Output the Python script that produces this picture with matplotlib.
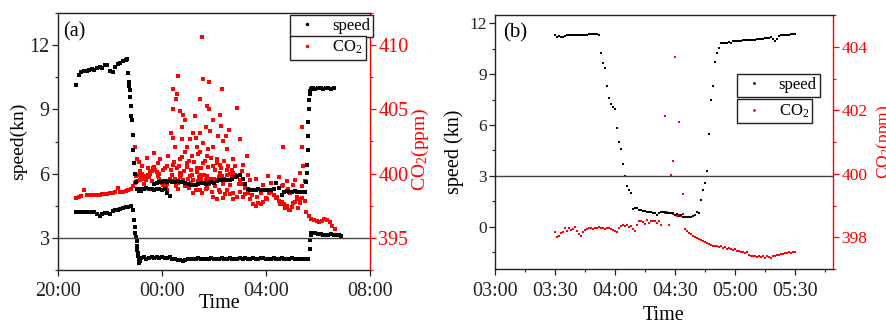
import matplotlib
matplotlib.use("Agg")
import matplotlib.pyplot as plt
from matplotlib.lines import Line2D
from matplotlib.ticker import MultipleLocator

plt.rcParams['font.family'] = ['Liberation Serif', 'DejaVu Serif']
plt.rcParams['mathtext.fontset'] = 'custom'
plt.rcParams['mathtext.rm'] = 'Liberation Serif'
plt.rcParams['mathtext.it'] = 'Liberation Serif:italic'

RED = '#ff0000'

# ---------------- Panel (a): hours after 20:00 ----------------
a_xticks = [0, 4, 8, 12]
a_xticklabels = ["20:00", "00:00", "04:00", "08:00"]

# speed trace A (segments: start hour, step, values)
a_spdA_1 = (0.7, 0.1, [10.15, 10.6, 10.75, 10.8, 10.8, 10.85, 10.9, 10.85, 10.95, 11.0,
                       10.95, 11.05, 11.05, 10.8, 10.75, 11.0, 11.1, 11.15, 11.25, 11.3])
a_spdA_2_t = [2.66, 2.7, 2.72, 2.74, 2.76, 2.78, 2.8, 2.82, 2.84, 2.87, 2.9, 2.93, 2.96, 3.0, 3.05, 3.1, 3.15]
a_spdA_2_v = [11.35, 10.7, 10.3, 10.1, 9.9, 9.6, 9.15, 8.7, 8.5, 7.8, 7.1, 6.5, 6.0, 5.6, 5.3, 5.2, 5.3]
a_spdA_3 = (3.2, 0.1, [5.2, 5.3, 5.35, 5.3, 5.3, 5.25, 5.3, 5.3, 5.25, 5.3, 5.1, 4.95])
a_spdA_4 = (3.7, 0.1, [5.5, 5.55, 5.6, 5.6, 5.65, 5.6, 5.65, 5.6, 5.62, 5.65, 5.6, 5.6, 5.55, 5.5,
                       5.45, 5.48, 5.45, 5.5, 5.55, 5.55, 5.5, 5.55, 5.6, 5.58, 5.65, 5.7, 5.68,
                       5.7, 5.72, 5.7, 5.75, 5.85, 5.9, 5.95, 5.75, 5.5, 5.3, 5.25, 5.25, 5.25,
                       5.28, 5.25, 5.25, 5.22, 5.25, 5.25, 5.3, 5.55, 5.35, 5.0, 5.15, 5.18,
                       5.15, 5.15, 5.18, 5.15, 5.15, 5.12, 5.15])
a_spdA_5_t = [9.55, 9.57, 9.59, 9.6, 9.62, 9.63, 9.65, 9.66, 9.68, 9.7, 9.73, 9.76]
a_spdA_5_v = [5.6, 6.05, 6.4, 7.1, 7.75, 8.4, 9.0, 9.45, 9.7, 9.85, 9.95, 10.0]
a_spdA_6 = (9.8, 0.1, [10.0, 9.95, 10.0, 10.0, 9.95, 10.0, 10.0, 9.95, 10.0])

# speed trace B
a_spdB_1 = (0.7, 0.1, [4.2, 4.2, 4.2, 4.2, 4.2, 4.2, 4.2, 4.2, 4.1, 4.0, 4.12, 4.15, 4.15, 4.1,
                       4.25, 4.3, 4.3, 4.35, 4.4, 4.42, 4.45, 4.47])
a_spdB_2_t = [2.9, 2.93, 2.96, 2.98, 3.0, 3.02, 3.04, 3.05, 3.06, 3.08, 3.1, 3.12, 3.15]
a_spdB_2_v = [4.3, 3.85, 3.5, 3.25, 3.05, 2.85, 2.6, 2.45, 2.3, 2.15, 2.0, 1.85, 1.9]
a_spdB_3 = (3.2, 0.1, [2.05, 2.1, 2.02, 2.08, 2.12, 2.04, 2.1, 2.06, 2.12, 2.05, 2.08, 2.1, 2.02,
                       2.0, 1.98, 1.95, 1.92, 1.95, 2.0, 2.02, 2.03, 2.02, 2.04, 2.03, 2.02, 2.03,
                       2.02, 2.05, 2.03, 2.02, 2.03, 2.04, 2.02, 2.03, 2.06, 2.03, 2.02, 2.03,
                       2.05, 2.02, 2.04, 2.03, 2.02, 2.06, 2.03, 2.02, 2.04, 2.05, 2.03, 2.02,
                       2.03, 2.04, 2.02, 2.03, 2.05, 2.02, 2.03, 2.02, 2.04, 2.03, 2.02, 2.03,
                       2.02, 2.03, 2.02])
a_spdB_4_t = [9.68, 9.7, 9.72, 9.75, 9.8]
a_spdB_4_v = [2.5, 2.9, 3.15, 3.25, 3.25]
a_spdB_5 = (9.9, 0.1, [3.22, 3.2, 3.18, 3.15, 3.15, 3.15, 3.18, 3.15, 3.15, 3.12, 3.08])

# CO2 main trace
a_co2_1 = (0.7, 0.1, [398.1, 398.2, 398.25, 398.75, 398.3, 398.3, 398.3, 398.35, 398.3, 398.35,
                      398.4, 398.4, 398.45, 398.5, 398.5, 398.55, 398.85, 398.6, 398.6, 398.65,
                      398.7, 398.8, 399.0])
a_co2_2 = (2.95, 0.05, [399.3, 399.8, 399.4, 399.9, 399.5, 399.7, 400.0, 399.6, 399.8, 399.5,
                        399.9, 399.7, 400.0, 400.2, 400.4, 400.5, 400.3, 400.1, 399.8, 399.6,
                        399.4, 399.3, 399.1, 399.2, 399.0, 399.2, 399.4, 399.6])
a_co2_3 = (4.4, 0.1, [399.4, 399.6, 399.3, 399.7, 399.5, 399.2, 399.6, 399.3, 399.5, 399.1,
                      399.4, 399.6, 399.3, 399.5, 399.2, 399.4, 399.6, 399.5, 399.7, 399.8,
                      399.6, 399.9, 400.0, 399.8, 399.9, 399.7, 399.5, 399.2, 398.9, 398.5,
                      398.0, 397.6, 397.5, 397.7, 397.6, 397.8, 398.1, 398.5, 398.6, 398.3,
                      398.1, 397.9, 397.8, 397.6, 397.5, 397.2, 397.4, 397.8, 398.0, 397.7,
                      398.1, 397.9])
a_co2_4 = (9.55, 0.1, [397.0, 396.7, 396.5, 396.4, 396.3, 396.25, 396.3, 396.45, 396.4, 396.2,
                       395.9, 395.7])
# CO2 scattered readings (hour, ppm)
a_co2_scatter_t = [5.53, 4.63, 5.56, 5.82, 6.29, 4.44, 4.56, 4.53, 5.46, 4.44, 5.74, 5.81, 6.9,
                   4.82, 4.69, 6.23, 4.88, 5.27, 5.97, 6.26, 5.69, 5.46, 4.33, 5.2, 9.37, 4.76,
                   5.85, 6.59, 6.17, 5.31, 4.44, 4.76, 7.0, 5.08, 5.59, 6.36, 6.46, 4.95, 3.71,
                   2.96, 5.97, 8.67, 9.37, 5.33, 4.5, 4.24, 4.88, 5.46, 5.78, 6.51, 7.26, 3.03,
                   5.14, 5.72, 6.1, 4.69, 6.74, 4.95, 5.59, 6.23, 9.44, 4.44, 5.33, 5.97, 6.49,
                   7.06, 8.09, 8.79, 8.67, 9.31, 9.05, 4.69, 5.08, 5.46, 5.72, 6.23, 6.74, 6.1,
                   5.97, 6.36, 6.62, 6.74, 6.87, 7.0, 7.13, 6.23, 6.49, 5.72, 5.46, 5.2, 4.95,
                   7.51, 7.64, 8.03, 8.41, 8.6, 8.92, 9.05, 9.18, 9.31, 9.24, 8.92, 8.73, 9.37,
                   9.5, 8.54, 7.9, 7.38, 7.19, 3.92, 4.18, 3.41, 3.22, 3.1, 3.55, 3.85, 4.05]
a_co2_scatter_v = [410.65, 407.6, 407.4, 407.1, 406.6, 406.6, 406.2, 405.8, 405.8, 405.0, 405.3,
                   405.0, 405.1, 404.6, 404.9, 404.6, 404.2, 404.5, 404.2, 403.7, 403.6, 403.2,
                   403.2, 403.2, 403.6, 403.6, 403.3, 403.4, 402.9, 402.8, 402.8, 402.7, 402.7,
                   402.7, 402.4, 402.5, 402.9, 402.1, 401.6, 402.1, 402.1, 402.1, 402.1, 402.1,
                   402.1, 401.35, 401.7, 401.7, 401.9, 401.9, 401.4, 401.1, 401.35, 401.35,
                   401.1, 401.1, 401.1, 400.8, 400.8, 400.7, 400.6, 400.7, 400.45, 400.6,
                   400.3, 400.2, 399.8, 399.4, 399.1, 400.05, 399.1, 400.05, 399.8, 399.9,
                   399.8, 400.05, 400.05, 398.0, 398.2, 398.1, 398.4, 398.0, 398.2, 398.6,
                   398.2, 398.6, 398.75, 398.9, 398.75, 398.5, 399.0, 398.75, 398.2, 398.0,
                   398.2, 399.0, 398.5, 397.7, 398.2, 398.0, 397.3, 397.2, 397.3, 399.0, 399.4,
                   397.6, 399.1, 399.5, 399.1, 401.1, 400.6, 401.2, 400.6, 400.9, 400.2, 400.8,
                   400.3]
# more readings in the dense band around 398-401.5 ppm
a_co2_band_t = [4.35, 4.4, 4.47, 4.52, 4.58, 4.62, 4.67, 4.73, 4.78, 4.85, 4.9, 4.98, 5.03,
                5.05, 5.12, 5.17, 5.24, 5.29, 5.35, 5.4, 5.43, 5.5, 5.52, 5.6, 5.65, 5.68,
                5.77, 5.84, 5.88, 5.93, 6.02, 6.05, 6.13, 6.19, 6.26, 6.33, 6.4, 6.44, 6.55,
                6.6, 6.68, 6.72, 6.8, 6.95, 7.1, 7.2, 7.32, 7.45, 7.6, 7.8, 8.2, 8.5, 8.85,
                9.1, 9.45, 3.15, 3.3, 3.45, 3.6, 3.9, 4.1, 4.2]
a_co2_band_v = [400.3, 399.9, 400.9, 399.0, 400.4, 398.8, 400.6, 399.9, 401.3, 400.2, 399.0,
                400.5, 401.0, 398.9, 400.3, 399.9, 400.9, 398.7, 400.1, 401.5, 399.7, 400.4,
                398.5, 399.9, 401.0, 398.8, 400.5, 399.6, 401.2, 398.6, 400.3, 399.0, 400.8,
                398.7, 400.4, 399.2, 401.0, 398.4, 400.6, 399.1, 400.3, 398.5, 400.6, 399.2,
                400.7, 398.4, 399.9, 398.3, 399.6, 398.5, 399.3, 399.7, 398.8, 399.5, 398.6,
                400.2, 399.2, 400.4, 399.4, 400.0, 400.4, 398.7]

# ---------------- Panel (b): minutes after 03:00 ----------------
b_xticks = [0, 30, 60, 90, 120, 150]
b_xticklabels = ["03:00", "03:30", "04:00", "04:30", "05:00", "05:30"]

b_spd_1 = (30, 1, [11.3, 11.2, 11.25, 11.18, 11.2, 11.28, 11.3, 11.3, 11.3, 11.3, 11.3, 11.3,
                   11.3, 11.3, 11.3, 11.3, 11.3, 11.4, 11.4, 11.4, 11.4, 11.4, 11.32])
b_spd_2 = (53, 1, [10.27, 9.67, 9.37, 8.29, 7.57, 7.27, 7.08, 6.96, 5.8, 5.0, 4.6, 3.7, 3.02,
                   2.43, 2.14, 2.0])
b_spd_3 = (69, 1, [1.04, 1.1, 1.08, 1.0, 1.0, 0.95, 0.9, 0.88, 0.84, 0.84, 0.8, 0.78, 0.71,
                   0.8, 0.84, 0.84, 0.84, 0.82, 0.8, 0.78, 0.78, 0.71, 0.72, 0.65, 0.68, 0.6,
                   0.6, 0.6, 0.6, 0.6, 0.62, 0.71, 0.84, 0.82])
b_spd_4 = (103, 1, [1.6, 2.18, 2.6, 3.28, 5.47, 7.48, 8.28, 9.7, 10.26, 10.56, 10.84])
b_spd_5 = (114, 1, [10.87, 10.87, 10.84, 10.9, 10.87, 10.96, 10.96, 10.96, 10.98, 10.96, 11.0,
                    11.02, 11.0, 11.02, 11.04, 11.04, 11.04, 11.06, 11.1, 11.1, 11.1, 11.12,
                    11.12, 11.15, 11.2, 11.1, 10.98, 11.1, 11.25, 11.3, 11.3, 11.3, 11.32,
                    11.32, 11.38, 11.4, 11.4])
b_co2 = (30, 1, [398.15, 398.0, 398.05, 398.12, 398.18, 398.28, 398.2, 398.3, 398.22, 398.25,
                 398.32, 398.2, 398.1, 398.05, 398.15, 398.22, 398.25, 398.28, 398.3, 398.27,
                 398.3, 398.28, 398.32, 398.28, 398.3, 398.25, 398.3, 398.3, 398.25, 398.22,
                 398.2, 398.17, 398.3, 398.35, 398.4, 398.35, 398.38, 398.33, 398.36, 398.25,
                 398.2, 398.4, 398.5, 398.52, 398.48, 398.42, 398.55, 398.45, 398.5, 398.52,
                 398.5, 398.45, 398.52, 398.4, 398.78, 398.75, 398.78, 398.4, 398.76, 398.72,
                 398.7, 398.66, 398.7, 398.68, 398.72, 398.27, 398.2, 398.13, 398.1, 398.05,
                 398.0, 397.98, 397.95, 397.9, 397.88, 397.85, 397.82, 397.78, 397.75, 397.73,
                 397.74, 397.72, 397.7, 397.72, 397.65, 397.68, 397.64, 397.66, 397.62, 397.6,
                 397.62, 397.58, 397.56, 397.52, 397.55, 397.5, 397.52, 397.45, 397.42, 397.4,
                 397.42, 397.38, 397.4, 397.38, 397.42, 397.36, 397.4, 397.38, 397.35, 397.4,
                 397.42, 397.45, 397.44, 397.46, 397.48, 397.5, 397.49, 397.52, 397.51, 397.52,
                 397.52])
b_co2_scatter_t = [90.2, 85.0, 92.2, 89.2, 88.0, 94.2, 87.2]
b_co2_scatter_v = [403.67, 401.81, 401.62, 400.39, 399.95, 399.36, 398.4]


def expand(seg):
    t0, dt, vals = seg
    return [t0 + dt * i for i in range(len(vals))], list(vals)


def collect(*parts):
    ts, vs = [], []
    for p in parts:
        if isinstance(p, tuple) and len(p) == 3:
            t, v = expand(p)
        else:
            t, v = p
        ts += list(t)
        vs += list(v)
    return ts, vs


a_spd_t, a_spd_v = collect(a_spdA_1, (a_spdA_2_t, a_spdA_2_v), a_spdA_3, a_spdA_4,
                           (a_spdA_5_t, a_spdA_5_v), a_spdA_6,
                           a_spdB_1, (a_spdB_2_t, a_spdB_2_v), a_spdB_3,
                           (a_spdB_4_t, a_spdB_4_v), a_spdB_5)
a_co2_t, a_co2_v = collect(a_co2_1, a_co2_2, a_co2_3, a_co2_4,
                           (a_co2_scatter_t, a_co2_scatter_v),
                           (a_co2_band_t, a_co2_band_v))
b_spd_t, b_spd_v = collect(b_spd_1, b_spd_2, b_spd_3, b_spd_4, b_spd_5)
b_co2_t, b_co2_v = collect(b_co2, (b_co2_scatter_t, b_co2_scatter_v))

W, H = 887, 320
fig = plt.figure(figsize=(W / 100, H / 100), dpi=100)


def frac(l, r, t, b):
    return [l / W, (H - b) / H, (r - l) / W, (b - t) / H]


def style_axes(ax, ax2, fs_left, fs_right, fs_bottom):
    for s in ['left', 'bottom', 'top']:
        ax.spines[s].set_color('#222222')
        ax.spines[s].set_linewidth(1.0)
    ax.spines['right'].set_visible(False)
    for s in ['left', 'bottom', 'top']:
        ax2.spines[s].set_visible(False)
    ax2.spines['right'].set_color(RED)
    ax2.spines['right'].set_linewidth(1.0)
    ax.tick_params(axis='y', which='major', direction='out', length=4, width=0.9,
                   labelsize=fs_left, pad=2, colors='#222222')
    ax.tick_params(axis='y', which='minor', direction='out', length=2.5, width=0.8,
                   colors='#222222')
    ax.tick_params(axis='x', which='major', direction='out', length=4, width=0.9,
                   labelsize=fs_bottom, pad=5, colors='#222222')
    ax.tick_params(axis='x', which='minor', direction='out', length=2.5, width=0.8,
                   colors='#222222')
    ax2.tick_params(axis='y', which='major', direction='out', length=4, width=0.9,
                    labelsize=fs_right, pad=2, colors=RED)
    ax2.tick_params(axis='y', which='minor', direction='out', length=2.5, width=0.8,
                    colors=RED)
    ax.set_zorder(ax2.get_zorder() + 1)
    ax.patch.set_visible(False)


def two_legends(ax, x0, y_top, y_mid, fs, ms):
    h1 = Line2D([], [], ls='none', marker='o', ms=ms, mfc='black', mec='none')
    h2 = Line2D([], [], ls='none', marker='o', ms=ms, mfc=RED, mec='none')
    kw = dict(loc='upper left', fontsize=fs, frameon=True, fancybox=False, framealpha=1,
              edgecolor='#222222', borderpad=0.2, handlelength=1.6, handletextpad=0.7,
              borderaxespad=0)
    l1 = ax.legend([h1], ['speed'], bbox_to_anchor=(x0, y_top), **kw)
    l1.get_frame().set_linewidth(1.0)
    ax.add_artist(l1)
    l2 = ax.legend([h2], ['CO$_2$'], bbox_to_anchor=(x0, y_mid), **kw)
    l2.get_frame().set_linewidth(1.0)


# ---------- panel (a) ----------
axA = fig.add_axes(frac(58, 370, 13, 270))
axA2 = axA.twinx()
axA2.scatter(a_co2_t, a_co2_v, s=5, marker='s', c=RED, linewidths=0)
axA.scatter(a_spd_t, a_spd_v, s=5, marker='s', c='black', linewidths=0)
axA.axhline(3, color='#444444', lw=1.0)
axA.set_xlim(0, 12)
axA.set_ylim(1.5, 13.5)
axA2.set_ylim(392.5, 412.5)
axA.set_xticks(a_xticks)
axA.set_xticklabels(a_xticklabels)
axA.set_yticks([3, 6, 9, 12])
axA.yaxis.set_minor_locator(MultipleLocator(1.5))
axA2.set_yticks([395, 400, 405, 410])
axA2.yaxis.set_minor_locator(MultipleLocator(2.5))
style_axes(axA, axA2, 14.5, 14.5, 14.5)
axA.set_ylabel('speed(kn)', fontsize=14)
axA.yaxis.set_label_coords(-0.1, 0.5)
axA2.set_ylabel('CO$_2$(ppm)', fontsize=14, color=RED)
axA2.yaxis.set_label_coords(1.128, 0.47)
axA.set_xlabel('Time', fontsize=14.5)
axA.xaxis.set_label_coords(0.519, -0.093)
axA.text(0.016, 0.925, '(a)', transform=axA.transAxes, fontsize=14.5, va='center', ha='left')
two_legends(axA, 0.744, 0.993, 0.912, 12, 2.5)

# ---------- panel (b) ----------
axB = fig.add_axes(frac(495, 833, 15, 269))
axB2 = axB.twinx()
axB2.scatter(b_co2_t, b_co2_v, s=3, marker='s', c=RED, linewidths=0)
axB.scatter(b_spd_t, b_spd_v, s=3, marker='s', c='black', linewidths=0)
axB.axhline(3, color='#444444', lw=1.0)
axB.set_xlim(0, 169)
axB.set_ylim(-2.5, 12.5)
axB2.set_ylim(397, 405)
axB.set_xticks(b_xticks)
axB.set_xticklabels(b_xticklabels)
axB.xaxis.set_minor_locator(MultipleLocator(15))
axB.set_yticks([0, 3, 6, 9, 12])
axB.yaxis.set_minor_locator(MultipleLocator(1.5))
axB2.set_yticks([398, 400, 402, 404])
axB2.yaxis.set_minor_locator(MultipleLocator(1))
style_axes(axB, axB2, 12.5, 12.5, 14.5)
axB.set_ylabel('speed (kn)', fontsize=14.5)
axB.yaxis.set_label_coords(-0.092, 0.46)
axB2.set_ylabel('CO$_2$(ppm)', fontsize=12.5, color=RED)
axB2.yaxis.set_label_coords(1.121, 0.5)
axB.set_xlabel('Time', fontsize=14.5)
axB.xaxis.set_label_coords(0.5, -0.146)
axB.text(0.024, 0.928, '(b)', transform=axB.transAxes, fontsize=15, va='center', ha='left')
two_legends(axB, 0.716, 0.768, 0.669, 12, 2.0)

fig.savefig('out.png', dpi=100)
